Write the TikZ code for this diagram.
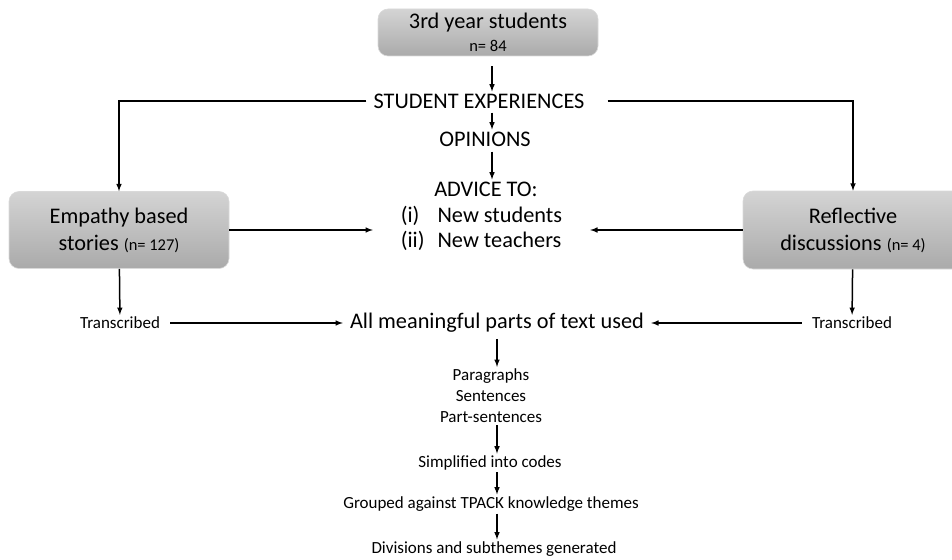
\documentclass[tikz,border=0pt]{standalone}
\usepackage{fontspec}
\setmainfont{Carlito}
\usetikzlibrary{arrows, calc, positioning}

\definecolor{boxtop}{RGB}{212,212,212}
\definecolor{boxbottom}{RGB}{170,170,170}
\newcommand{\countfont}{\fontsize{16.5}{18}\selectfont}

\begin{document}
\begin{tikzpicture}[x=1pt, y=-1pt,
    stage/.style={rounded corners=10pt, draw=gray!30, line width=0.6pt, top color=boxtop, bottom color=boxbottom,
        minimum width=220pt, align=center, font=\fontsize{22.3}{27}\selectfont},
    plain/.style={font=\fontsize{22.3}{25}\selectfont, inner ysep=2pt, inner xsep=7pt},
    note/.style={font=\fontsize{17}{21}\selectfont, inner ysep=2pt, inner xsep=10pt},
    flow/.style={line width=1.5pt, -latex}]

    \clip (0,0) rectangle (952,559);

    % sample and first steps
    \node[stage, minimum height=47pt] (cohort) at (488,32.5) {3rd year students\\[-4pt]{\countfont n= 84}};
    \node[plain] (exp) at (479,101) {STUDENT EXPERIENCES};
    \node[plain] (opin) at (485,139) {OPINIONS};
    \node[plain] (advice) at (486,189) {ADVICE TO:};
    \node[plain, minimum width=217pt] (list) at (481.5,230)
        {\begin{tabular}{@{}l@{\hspace{13pt}}l@{}}(i)&New students\\[0pt](ii)&New teachers\end{tabular}};

    % the two data sources
    \node[stage, minimum height=77pt] (story) at (119,230) {Empathy based\\stories {\countfont (n= 127)}};
    \node[stage, minimum height=78pt] (reflect) at (853,230) {Reflective\\discussions {\countfont (n= 4)}};

    \node[note] (transL) at (120,323) {Transcribed};
    \node[note] (transR) at (852,323) {Transcribed};
    \node[plain] (parts) at (497,323) {All meaningful parts of text used};

    % analysis steps
    \node[note, align=center] (units) at (491,396) {Paragraphs\\Sentences\\Part-sentences};
    \node[note] (codes) at (490,463) {Simplified into codes};
    \node[note] (themes) at (491,504) {Grouped against TPACK knowledge themes};
    \node[note] (subthemes) at (494,549) {Divisions and subthemes generated};

    \coordinate (upper) at (492,0);
    \coordinate (lower) at (497,0);

    \draw[flow, shorten <=10pt] (cohort.south -| upper) -- (exp.north -| upper);
    \draw[flow, shorten <=2pt] (exp.south -| upper) -- (opin.north -| upper);
    \draw[flow, shorten <=3pt] (opin.south -| upper) -- (advice.north -| upper);

    \draw[flow] (exp.west) -| (story.north);
    \draw[flow] ([xshift=16pt]exp.east) -| (reflect.north);
    \draw[flow] (story) -- (list);
    \draw[flow] (reflect) -- (list);

    \draw[flow] (story) -- (transL);
    \draw[flow] (reflect) -- (transR);
    \draw[flow] (transL) -- (parts);
    \draw[flow] (transR) -- (parts);

    \draw[flow, shorten <=4pt] (parts.south -| lower) -- (units.north -| lower);
    \draw[flow] (units.south -| lower) -- (codes.north -| lower);
    \draw[flow] (codes.south -| lower) -- (themes.north -| lower);
    \draw[flow] (themes.south -| lower) -- (subthemes.north -| lower);
\end{tikzpicture}
\end{document}
